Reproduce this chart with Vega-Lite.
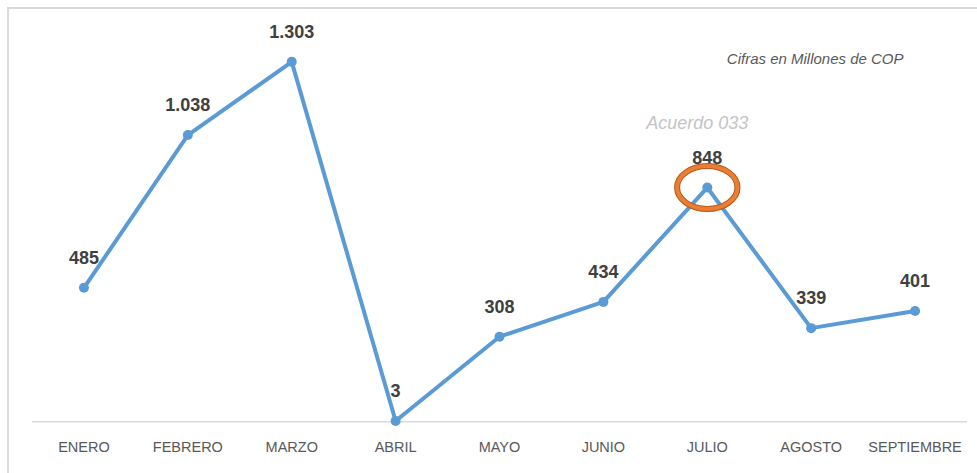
{
  "$schema": "https://vega.github.io/schema/vega-lite/v6.json",
  "width": 983,
  "height": 482,
  "autosize": "none",
  "padding": {"left": 8, "top": 8, "right": 0, "bottom": 0},
  "background": "white",
  "config": {
    "view": {"stroke": "#d9d9d9", "strokeWidth": 2},
    "locale": {"number": {"decimal": ",", "thousands": ".", "grouping": [3], "currency": ["$", ""]}}
  },
  "data": {
    "values": [
      {"mes": "ENERO", "valor": 485},
      {"mes": "FEBRERO", "valor": 1038},
      {"mes": "MARZO", "valor": 1303},
      {"mes": "ABRIL", "valor": 3},
      {"mes": "MAYO", "valor": 308},
      {"mes": "JUNIO", "valor": 434},
      {"mes": "JULIO", "valor": 848},
      {"mes": "AGOSTO", "valor": 339},
      {"mes": "SEPTIEMBRE", "valor": 401}
    ]
  },
  "encoding": {
    "x": {
      "field": "mes",
      "type": "ordinal",
      "sort": null,
      "scale": {
        "type": "band",
        "domain": ["ENERO", "FEBRERO", "MARZO", "ABRIL", "MAYO", "JUNIO", "JULIO", "AGOSTO", "SEPTIEMBRE"],
        "paddingInner": 0,
        "paddingOuter": 0.231
      },
      "axis": {
        "title": null,
        "orient": "bottom",
        "offset": -68,
        "domain": false,
        "ticks": false,
        "tickSize": 0,
        "grid": false,
        "labelAngle": 0,
        "labelPadding": 18,
        "labelFont": "Liberation Sans",
        "labelFontSize": 14.5,
        "labelColor": "#595959"
      }
    },
    "y": {
      "field": "valor",
      "type": "quantitative",
      "scale": {"domain": [-247, 1498], "nice": false, "zero": false},
      "axis": null
    }
  },
  "layer": [
    {
      "data": {"values": [{"a": "ENERO", "b": "SEPTIEMBRE", "v": 0}]},
      "mark": {"type": "rule", "color": "#d9d9d9", "strokeWidth": 1.5},
      "encoding": {
        "x": {"field": "a", "type": "ordinal", "bandPosition": 0},
        "x2": {"field": "b", "bandPosition": 1},
        "y": {"field": "v", "type": "quantitative"}
      }
    },
    {
      "mark": {"type": "line", "color": "#5b9bd5", "strokeWidth": 4, "strokeCap": "round", "strokeJoin": "round"},
      "encoding": {"x": {"field": "mes", "type": "ordinal", "bandPosition": 0.5}}
    },
    {
      "mark": {"type": "point", "filled": true, "color": "#5b9bd5", "size": 100, "opacity": 1}
    },
    {
      "mark": {"type": "text", "font": "Liberation Sans", "fontWeight": "bold", "fontSize": 18, "color": "#404040", "baseline": "middle", "dy": -29},
      "encoding": {"text": {"field": "valor", "type": "quantitative", "format": ","}}
    },
    {
      "transform": [{"filter": "datum.mes === 'JULIO'"}],
      "mark": {"type": "point", "filled": false, "shape": "M -1 0 A 1 0.71 0 1 1 1 0 A 1 0.71 0 1 1 -1 0 Z", "size": 3650, "stroke": "#b85a1c", "strokeWidth": 6, "opacity": 1}
    },
    {
      "transform": [{"filter": "datum.mes === 'JULIO'"}],
      "mark": {"type": "point", "filled": false, "shape": "M -1 0 A 1 0.71 0 1 1 1 0 A 1 0.71 0 1 1 -1 0 Z", "size": 3650, "stroke": "#ed7d31", "strokeWidth": 4, "opacity": 1}
    },
    {
      "transform": [{"filter": "datum.mes === 'JULIO'"}],
      "mark": {"type": "text", "font": "Liberation Sans", "fontStyle": "italic", "fontSize": 18, "color": "#c4c4c4", "baseline": "middle", "dx": -10, "dy": -64},
      "encoding": {"text": {"value": "Acuerdo 033"}}
    },
    {
      "data": {"values": [{"mes": "AGOSTO", "valor": 1313, "t": "Cifras en Millones de COP"}]},
      "mark": {"type": "text", "font": "Liberation Sans", "fontStyle": "italic", "fontSize": 15, "color": "#595959", "baseline": "middle", "dx": 4},
      "encoding": {"text": {"field": "t", "type": "nominal"}}
    }
  ]
}
